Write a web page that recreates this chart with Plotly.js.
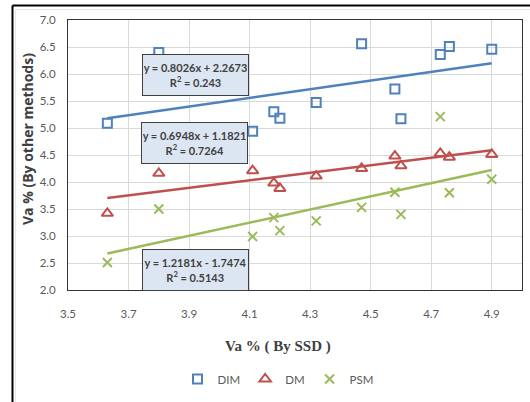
<!DOCTYPE html>
<html>
<head>
<meta charset="utf-8">
<script src="https://cdn.plot.ly/plotly-3.0.1.min.js"></script>
<style>
html,body{margin:0;padding:0;background:#fff;}
#chart{width:530px;height:402px;}
</style>
</head>
<body>
<div id="chart"></div>
<script>
// ---- data ----
var ssd = [3.63, 3.80, 4.11, 4.18, 4.20, 4.32, 4.47, 4.58, 4.60, 4.73, 4.76, 4.90];
var dim = [5.09, 6.40, 4.94, 5.30, 5.18, 5.47, 6.56, 5.72, 5.17, 6.36, 6.51, 6.46];
var dm  = [3.42, 4.16, 4.21, 3.98, 3.88, 4.11, 4.25, 4.48, 4.30, 4.53, 4.46, 4.51];
var psm = [2.51, 3.50, 2.99, 3.34, 3.10, 3.28, 3.53, 3.81, 3.40, 5.21, 3.80, 4.05];
var seriesNames = ['DIM', 'DM', 'PSM'];
var slopes = [0.8026, 0.6948, 1.2181];
var intercepts = [2.2673, 1.1821, -1.7474];
var r2 = ['0.243', '0.7264', '0.5143'];
var boxX = [3.921, 3.918, 3.921];
var boxY = [5.98, 4.72, 2.37];
var xTicks = [3.5, 3.7, 3.9, 4.1, 4.3, 4.5, 4.7, 4.9];
var yTicks = [2.0, 2.5, 3.0, 3.5, 4.0, 4.5, 5.0, 5.5, 6.0, 6.5, 7.0];

var colors = ['#4f81bd', '#c0504d', '#9bbb59'];
var symbols = ['square-open', 'triangle-up-open', 'x-thin-open'];
var sizes = [9, 10, 9];
var ys = [dim, dm, psm];
var F = 'Lato, "Open Sans", sans-serif';

var xMin = Math.min.apply(null, ssd), xMax = Math.max.apply(null, ssd);
var traces = [];
for (var i = 0; i < 3; i++) {
  traces.push({
    x: [xMin, xMax],
    y: [slopes[i] * xMin + intercepts[i], slopes[i] * xMax + intercepts[i]],
    mode: 'lines', line: {color: colors[i], width: 2.5},
    showlegend: false, hoverinfo: 'skip'
  });
}
for (var i = 0; i < 3; i++) {
  traces.push({
    x: ssd, y: ys[i], name: seriesNames[i], mode: 'markers',
    marker: {symbol: symbols[i], size: sizes[i], color: colors[i],
             line: {color: colors[i], width: 2}}
  });
}

function eqText(i) {
  var b = intercepts[i];
  var sign = b < 0 ? ' - ' : ' + ';
  return '<b>y = ' + slopes[i].toFixed(4) + 'x' + sign + Math.abs(b).toFixed(4) +
         '<br>R<sup>2</sup> = ' + r2[i] + '</b>';
}
var annotations = [];
for (var i = 0; i < 3; i++) {
  annotations.push({
    x: boxX[i], y: boxY[i], xref: 'x', yref: 'y', text: eqText(i),
    showarrow: false, bgcolor: '#dce6f2', bordercolor: '#404040', borderwidth: 1,
    width: 103, height: 38, align: 'center',
    font: {family: F, size: 11, color: '#404040'}
  });
}
annotations.push({
  xref: 'paper', yref: 'paper', x: (278 - 68) / 454, y: (290 - 346) / 270,
  xanchor: 'center', yanchor: 'middle',
  text: '<b>Va % ( By SSD )</b>', showarrow: false,
  font: {family: '"Liberation Serif", "Times New Roman", serif', size: 15, color: '#404040'}
});
annotations.push({
  xref: 'paper', yref: 'paper', x: (27 - 68) / 454, y: (290 - 139) / 270,
  xanchor: 'center', yanchor: 'middle',
  text: '<b>Va % (By other methods)</b>', showarrow: false, textangle: -90,
  font: {family: '"Open Sans", sans-serif', size: 14, color: '#404040'}
});

var layout = {
  width: 530, height: 402,
  margin: {l: 68, r: 8, t: 20, b: 112},
  paper_bgcolor: '#ffffff', plot_bgcolor: '#ffffff',
  showlegend: true,
  legend: {orientation: 'h', x: (278 - 68) / 454, xanchor: 'center',
           y: (290 - 379) / 270, yanchor: 'middle',
           font: {family: F, size: 11.5, color: '#595959'}, bgcolor: 'rgba(0,0,0,0)'},
  xaxis: {range: [3.5, 5.0], tickvals: xTicks, ticktext: xTicks.map(function(v){return v.toFixed(1);}),
          showgrid: true, gridcolor: '#d9d9d9', gridwidth: 1, zeroline: false,
          showline: true, linecolor: '#333333', linewidth: 1, mirror: true,
          ticks: '', ticklen: 0, ticklabelstandoff: 13,
          tickfont: {family: F, size: 11.5, color: '#595959'}},
  yaxis: {range: [2.0, 7.0], tickvals: yTicks, ticktext: yTicks.map(function(v){return v.toFixed(1);}),
          showgrid: true, gridcolor: '#d9d9d9', gridwidth: 1, zeroline: false,
          showline: true, linecolor: '#333333', linewidth: 1, mirror: true,
          ticks: '', ticklen: 0, ticklabelstandoff: 9,
          tickfont: {family: F, size: 11.5, color: '#595959'}},
  annotations: annotations,
  shapes: [
    {type: 'line', xref: 'paper', yref: 'paper', x0: (12.5 - 68) / 454, x1: 1.2,
     y0: (290 - 5.5) / 270, y1: (290 - 5.5) / 270, line: {color: '#000', width: 2}},
    {type: 'line', xref: 'paper', yref: 'paper', x0: (12.5 - 68) / 454, x1: (12.5 - 68) / 454,
     y0: (290 - 5.5) / 270, y1: -0.5, line: {color: '#000', width: 2}},
    {type: 'line', xref: 'paper', yref: 'paper', x0: (15.5 - 68) / 454, x1: 1.2,
     y0: (290 - 9.5) / 270, y1: (290 - 9.5) / 270, line: {color: '#e6e6e6', width: 1}},
    {type: 'line', xref: 'paper', yref: 'paper', x0: (15.5 - 68) / 454, x1: (15.5 - 68) / 454,
     y0: (290 - 9.5) / 270, y1: -0.5, line: {color: '#e6e6e6', width: 1}}
  ]
};

Plotly.newPlot('chart', traces, layout, {displayModeBar: false, staticPlot: true});
</script>
</body>
</html>
